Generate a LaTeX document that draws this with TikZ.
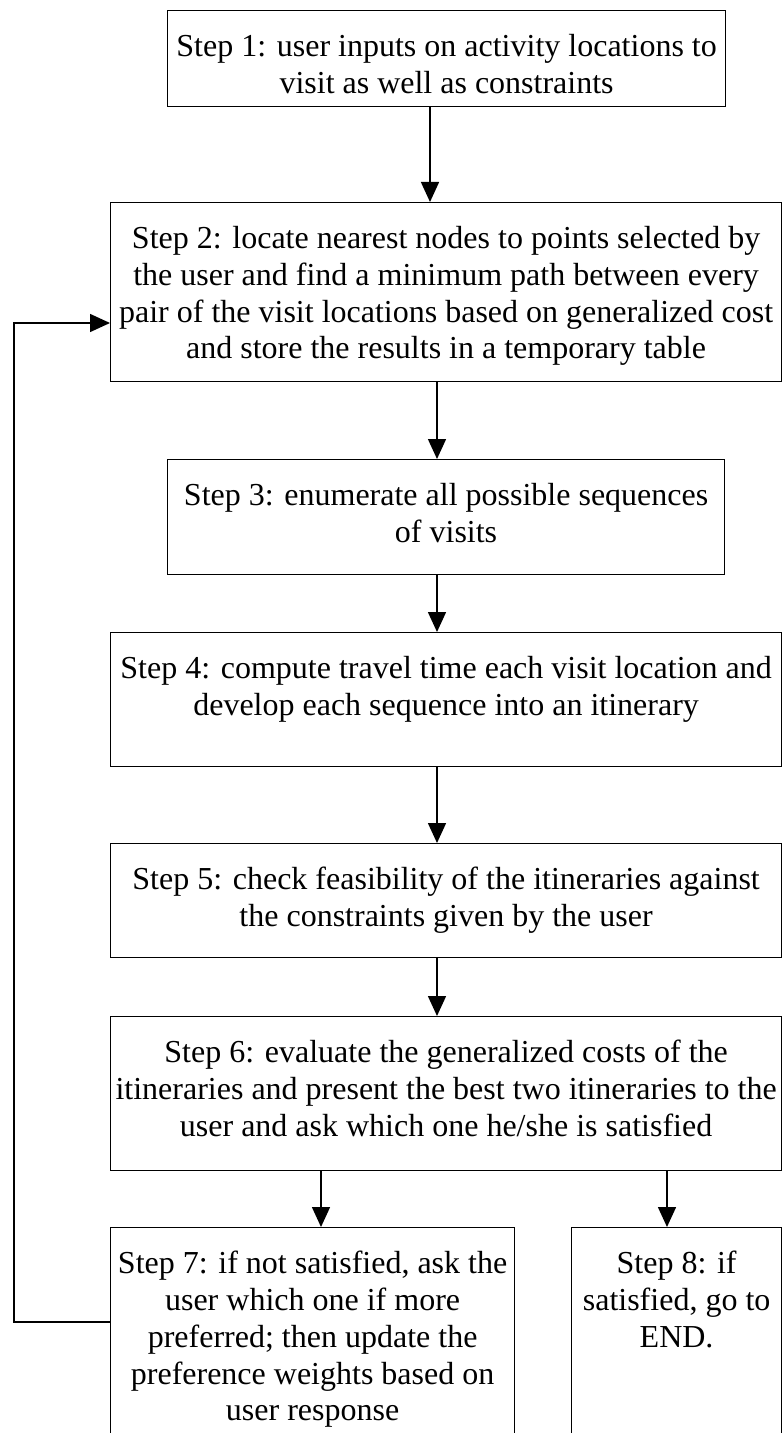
\documentclass[tikz,border=0pt]{standalone}
\usepackage{fontspec}
\setmainfont{Liberation Serif}
\usepackage{tikz}
\usetikzlibrary{arrows.meta}
\tikzstyle{stepbox} = [draw, rectangle, inner sep=0pt, line width=0.6pt, anchor=north west]
\tikzstyle{flow} = [draw, line width=0.75pt, -{Triangle[length=10pt, width=9pt]}]
\newcommand{\steptext}[3]{\parbox[c][#2][t]{#1}{\centering\rule{0pt}{23pt}#3}}

\begin{document}
\begin{tikzpicture}[x=0.5pt, y=-0.5pt, font=\fontsize{16}{18.4}\selectfont]
			\useasboundingbox (0,0) rectangle (781,1433);
			
			\node [stepbox] (s1) at (167,10) {\steptext{279pt}{48pt}{Step 1: user inputs on activity locations to\\visit as well as constraints}};
			\node [stepbox] (s2) at (110,202) {\steptext{335.5pt}{89.5pt}{Step 2: locate nearest nodes to points selected by\\the user and find a minimum path between every\\pair of the visit locations based on generalized cost\\and store the results in a temporary table}};
			\node [stepbox] (s3) at (167,459) {\steptext{278.5pt}{57.5pt}{Step 3: enumerate all possible sequences\\of visits}};
			\node [stepbox] (s4) at (110,632) {\steptext{335.5pt}{67pt}{Step 4: compute travel time each visit location and\\develop each sequence into an itinerary}};
			\node [stepbox] (s5) at (110,843) {\steptext{335.5pt}{57pt}{Step 5: check feasibility of the itineraries against\\the constraints given by the user}};
			\node [stepbox] (s6) at (110,1016) {\steptext{335.5pt}{77pt}{Step 6: evaluate the generalized costs of the\\itineraries and present the best two itineraries to the\\user and ask which one he/she is satisfied}};
			\node [stepbox] (s7) at (110,1227) {\steptext{202pt}{110pt}{Step 7: if not satisfied, ask the\\user which one if more\\preferred; then update the\\preference weights based on\\user response}};
			\node [stepbox] (s8) at (571,1227) {\steptext{105pt}{110pt}{Step 8: if\\satisfied, go to\\END.}};
			
			% arrow columns
			\coordinate (c1) at (430,0);
			\coordinate (c2) at (437,0);
			\coordinate (c7) at (321,0);
			\coordinate (c8) at (667,0);
			\coordinate (fbtop) at (14,323);
			\coordinate (fbbot) at (14,1322);
			
			\path [flow] (s1.south -| c1) -- (s2.north -| c1);
			\path [flow] (s2.south -| c2) -- (s3.north -| c2);
			\path [flow] (s3.south -| c2) -- (s4.north -| c2);
			\path [flow] (s4.south -| c2) -- (s5.north -| c2);
			\path [flow] (s5.south -| c2) -- (s6.north -| c2);
			\path [flow] (s6.south -| c7) -- (s7.north -| c7);
			\path [flow] (s6.south -| c8) -- (s8.north -| c8);
			
			% back to step 2
			\path [flow] (fbbot -| s7.west) -- (fbbot) -- (fbtop) -- (fbtop -| s2.west);
		\end{tikzpicture}
\end{document}
